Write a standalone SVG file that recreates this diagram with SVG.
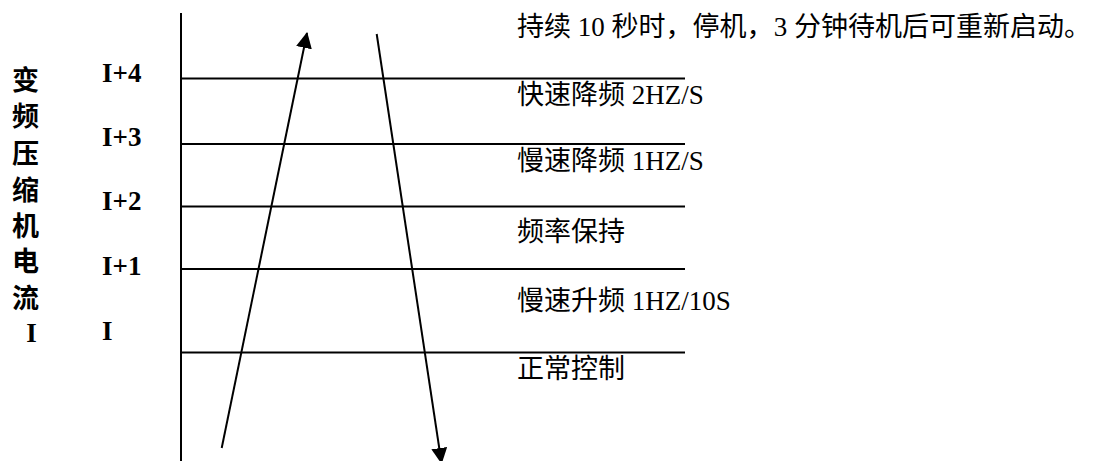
<svg xmlns="http://www.w3.org/2000/svg" width="1094" height="461" viewBox="0 0 1094 461">
<style>
  .t { font-family: "Liberation Serif", "Noto Sans CJK SC", serif; font-size: 27px; fill: #000; }
  .b { font-family: "Liberation Serif", "Noto Sans CJK SC", serif; font-size: 27px; font-weight: bold; fill: #000; }
  .ln { stroke: #000; stroke-width: 2; fill: none; }
</style>
<defs>
  <marker id="ah" markerUnits="userSpaceOnUse" markerWidth="16" markerHeight="16" viewBox="0 0 16 16" refX="15" refY="8" orient="auto">
    <path d="M0,0 L16,8 L0,16 Z" fill="#000"/>
  </marker>
</defs>
<rect width="1094" height="461" fill="#fff"/>

<g id="axis-title">
  <text class="b" x="25.5" y="90" text-anchor="middle">变</text>
  <text class="b" x="25.5" y="126" text-anchor="middle">频</text>
  <text class="b" x="25.5" y="163" text-anchor="middle">压</text>
  <text class="b" x="25.5" y="200" text-anchor="middle">缩</text>
  <text class="b" x="25.5" y="236" text-anchor="middle">机</text>
  <text class="b" x="25.5" y="271" text-anchor="middle">电</text>
  <text class="b" x="25.5" y="308" text-anchor="middle">流</text>
  <text class="b" x="31.5" y="342" text-anchor="middle">I</text>
</g>

<g id="levels">
  <text class="b" x="102" y="82">I+4</text>
  <text class="b" x="102" y="146">I+3</text>
  <text class="b" x="102" y="210">I+2</text>
  <text class="b" x="102" y="275">I+1</text>
  <text class="b" x="102" y="340">I</text>
</g>

<g id="grid">
  <line class="ln" x1="181" y1="13" x2="181" y2="461"/>
  <line class="ln" x1="181" y1="78.5" x2="685" y2="78.5"/>
  <line class="ln" x1="181" y1="144" x2="685" y2="144"/>
  <line class="ln" x1="181" y1="206.5" x2="685" y2="206.5"/>
  <line class="ln" x1="181" y1="269" x2="685" y2="269"/>
  <line class="ln" x1="181" y1="352.5" x2="685" y2="352.5"/>
</g>

<g id="zones">
  <text class="t" x="517" y="36" textLength="574" lengthAdjust="spacing">持续 10 秒时，停机，3 分钟待机后可重新启动。</text>
  <text class="t" x="517" y="104">快速降频 2HZ/S</text>
  <text class="t" x="517" y="170">慢速降频 1HZ/S</text>
  <text class="t" x="517" y="241">频率保持</text>
  <text class="t" x="517" y="310">慢速升频 1HZ/10S</text>
  <text class="t" x="517" y="378">正常控制</text>
</g>

<g id="connectors">
  <line class="ln" x1="221.7" y1="448" x2="307" y2="33" marker-end="url(#ah)"/>
  <line class="ln" x1="376.7" y1="34" x2="441.5" y2="463" marker-end="url(#ah)"/>
</g>
</svg>
